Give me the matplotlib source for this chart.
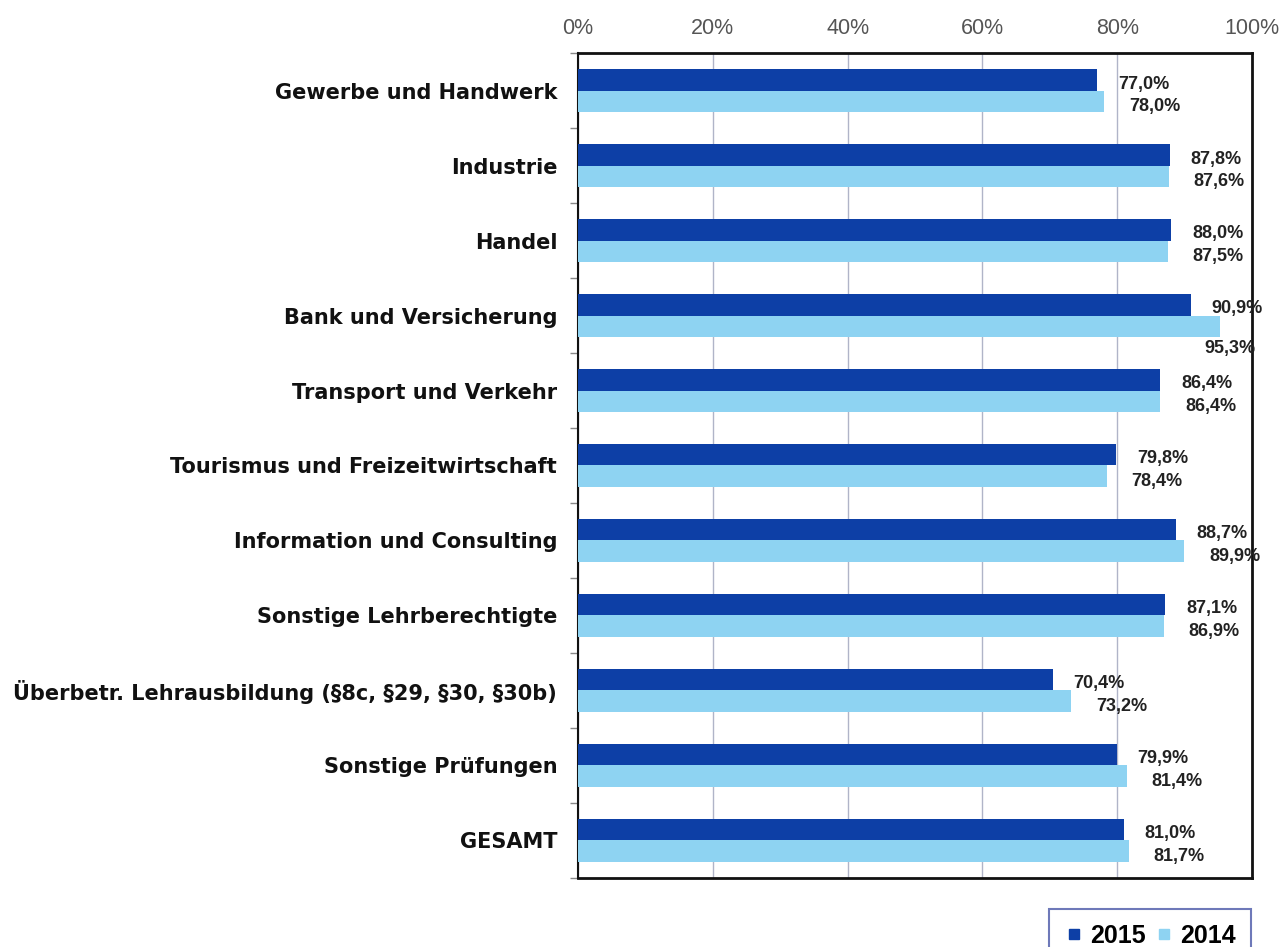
import matplotlib
matplotlib.use('Agg')
import matplotlib.pyplot as plt
from matplotlib.lines import Line2D
import numpy as np

plt.rcParams['font.family'] = ['Liberation Sans', 'DejaVu Sans']

categories = ['Gewerbe und Handwerk', 'Industrie', 'Handel',
              'Bank und Versicherung', 'Transport und Verkehr',
              'Tourismus und Freizeitwirtschaft', 'Information und Consulting',
              'Sonstige Lehrberechtigte',
              'Überbetr. Lehrausbildung (§8c, §29, §30, §30b)',
              'Sonstige Prüfungen', 'GESAMT']
vals_2015 = [77.0, 87.8, 88.0, 90.9, 86.4, 79.8, 88.7, 87.1, 70.4, 79.9, 81.0]
vals_2014 = [78.0, 87.6, 87.5, 95.3, 86.4, 78.4, 89.9, 86.9, 73.2, 81.4, 81.7]
xticks = [0, 20, 40, 60, 80, 100]

dark = '#0d3fa6'
light = '#8ed3f2'

fig = plt.figure(figsize=(12.8, 9.47), dpi=100)
ax = fig.add_axes([0.4516, 0.0729, 0.5266, 0.8711])

y = np.arange(len(categories))
h = 0.285
ax.barh(y - h / 2, vals_2015, height=h, color=dark, zorder=3)
ax.barh(y + h / 2, vals_2014, height=h, color=light, zorder=3)

def fmt(v):
    return ('%.1f%%' % v).replace('.', ',')

# value labels to the right of each bar
lab = dict(fontsize=13, fontweight='bold', color='#222222', zorder=4,
           textcoords='offset points', va='center')
for i, (a, b) in enumerate(zip(vals_2015, vals_2014)):
    ax.annotate(fmt(a), (a, i - h / 2), xytext=(15, -3), ha='left', **lab)
    if b > 93:
        # no room right of the bar: put it underneath
        ax.annotate(fmt(b), (b, i + h / 2), xytext=(7, -16), ha='center', **lab)
    else:
        ax.annotate(fmt(b), (b, i + h / 2), xytext=(18, -4), ha='left', **lab)

ax.set_xlim(0, 100)
ax.set_ylim(len(categories) - 0.5, -0.5)
ax.xaxis.tick_top()
ax.set_xticks(xticks)
ax.set_xticklabels(['%d%%' % t for t in xticks], fontsize=15.5, color='#555555')
ax.tick_params(axis='x', length=0, pad=10)
ax.grid(axis='x', color='#b0b4c8', linewidth=1, zorder=0)

ax.set_yticks(y)
ax.set_yticklabels(categories, fontsize=15, fontweight='bold', color='#111111',
                   family='DejaVu Sans')
ax.tick_params(axis='y', which='major', length=0, pad=15)
ax.set_yticks(np.arange(len(categories) + 1) - 0.5, minor=True)
ax.tick_params(axis='y', which='minor', length=6, color='#888888', width=1)

for side in ['top', 'bottom', 'right']:
    ax.spines[side].set_linewidth(2)
    ax.spines[side].set_color('#111111')
ax.spines['left'].set_linewidth(1.5)
ax.spines['left'].set_color('#111111')

handles = [Line2D([], [], marker='s', linestyle='', color=dark, markersize=7),
           Line2D([], [], marker='s', linestyle='', color=light, markersize=7)]
leg = fig.legend(handles, ['2015', '2014'], loc='lower left',
                 bbox_to_anchor=(0.810, -0.03, 0.177, 0.08), mode='expand',
                 ncol=2, frameon=True, fancybox=False, handletextpad=0.25,
                 handlelength=0.8, columnspacing=1.8, borderpad=0.6,
                 prop={'size': 18, 'weight': 'bold'})
leg.get_frame().set_edgecolor('#4a58a8')
leg.get_frame().set_linewidth(1.5)

fig.savefig('out.png', dpi=100)
